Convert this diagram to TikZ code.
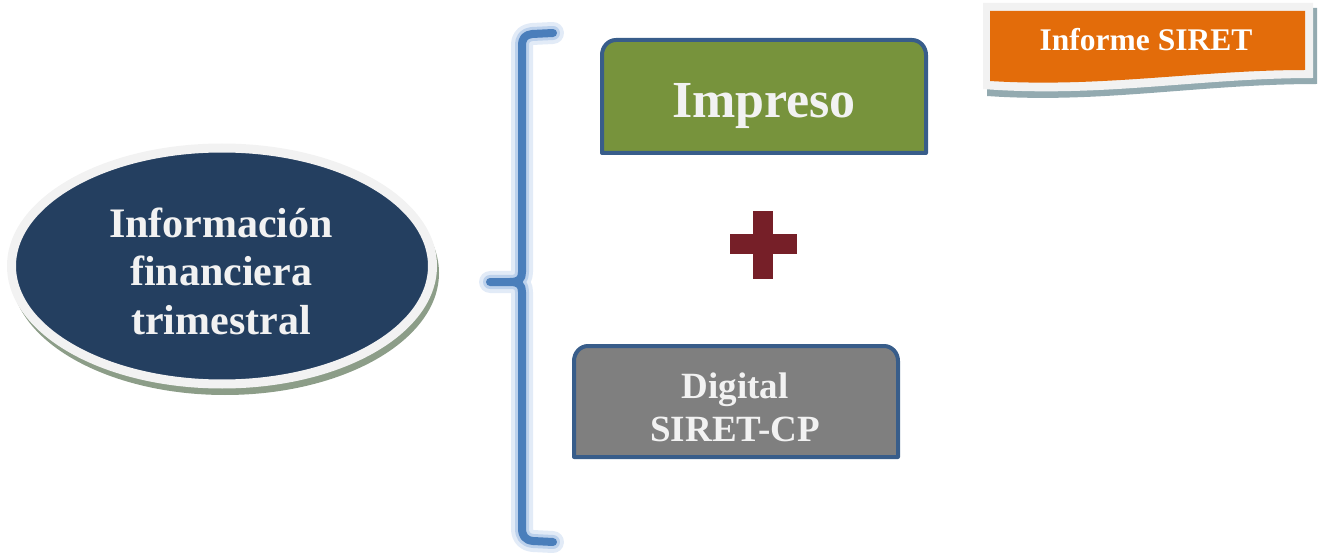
\documentclass[tikz,border=0pt]{standalone}
\usepackage{fontspec}
\setmainfont{Liberation Serif}
\usetikzlibrary{shapes.geometric}
\definecolor{navy}{HTML}{243F60}
\definecolor{ringc}{HTML}{F2F2F2}
\definecolor{ellshadow}{HTML}{8C9D88}
\definecolor{bracec}{HTML}{4A7EBB}
\definecolor{glowa}{HTML}{E2EBF7}
\definecolor{glowb}{HTML}{BCD1EC}
\definecolor{boxborder}{HTML}{385D8A}
\definecolor{greenc}{HTML}{77933C}
\definecolor{grayc}{HTML}{7F7F7F}
\definecolor{plusc}{HTML}{761F28}
\definecolor{orangec}{HTML}{E36C0A}
\definecolor{banshadow}{HTML}{93AAB0}
\definecolor{textc}{HTML}{F2F2F2}
\tikzset{
  bracestyle/.style={draw=bracec, line width=8pt, line cap=round, line join=round,
    preaction={draw=glowa, line width=22pt, line cap=round, line join=round},
    preaction={draw=glowb, line width=14pt, line cap=round, line join=round}},
  boxstyle/.style={draw=boxborder, line width=4pt, line join=round},
  lbl/.style={text=textc, font=\bfseries, inner sep=0pt}
}
\begin{document}
\begin{tikzpicture}[x=1pt,y=-1pt]
\useasboundingbox (0,0) rectangle (1319,553);
% ellipse
\fill[ellshadow] (225,273) ellipse [x radius=214, y radius=122];
\node[ellipse, fill=navy, draw=ringc, line width=9pt, minimum width=421pt, minimum height=236pt, inner sep=0pt] (info) at (222,266) {};
\node[lbl, align=center, font=\bfseries\fontsize{42}{48.5}\selectfont] (infotext) at (221,271)
  {Información\\financiera\\trimestral};
% brace
\draw[bracestyle] (553,33) -- (532,34) .. controls (525,35) and (522,38) .. (522,46) -- (522,272)
  .. controls (522,279) and (519,282) .. (510,282) -- (490,282)
  (522,292) .. controls (522,285) and (519,282) .. (510,282)
  (522,292) -- (522,528) .. controls (522,536) and (525,540) .. (533,541) -- (553,542);
\coordinate (bracetip) at (490,282);
% Impreso box
\draw[boxstyle, fill=greenc] (602,153) -- (602,55) .. controls (602,47) and (608,40) .. (616,40)
  -- (912,40) .. controls (920,40) and (926,47) .. (926,55) -- (926,153) -- cycle;
\node[lbl, font=\bfseries\fontsize{52}{60}\selectfont, anchor=base] (impreso) at (764,118) {Impreso};
% plus
\fill[plusc] (753,211) rectangle (773,279);
\fill[plusc] (730,234) rectangle (797,254);
\coordinate (plus) at (763,245);
% Digital box
\draw[boxstyle, fill=grayc] (574,457) -- (574,361) .. controls (574,353) and (580,346) .. (588,346)
  -- (884,346) .. controls (892,346) and (898,353) .. (898,361) -- (898,457) -- cycle;
\node[lbl, align=center, font=\bfseries\fontsize{37}{43}\selectfont] (digital) at (735,407) {Digital\\SIRET-CP};
% banner
\fill[banshadow] (987,8) -- (1317,8) -- (1317,84) .. controls (1200,84) and (1100,104) .. (987,96) -- cycle;
\fill[ringc] (983,3) -- (1313,3) -- (1313,78) .. controls (1200,78) and (1100,98) .. (983,89) -- cycle;
\fill[orangec] (990,11) -- (1305,11) -- (1305,70) .. controls (1200,70) and (1100,88) .. (990,81) -- cycle;
\node[inner sep=0pt, text=white, font=\bfseries\fontsize{31.5}{36}\selectfont, anchor=base] (informe) at (1146,51) {Informe SIRET};
\end{tikzpicture}
\end{document}
